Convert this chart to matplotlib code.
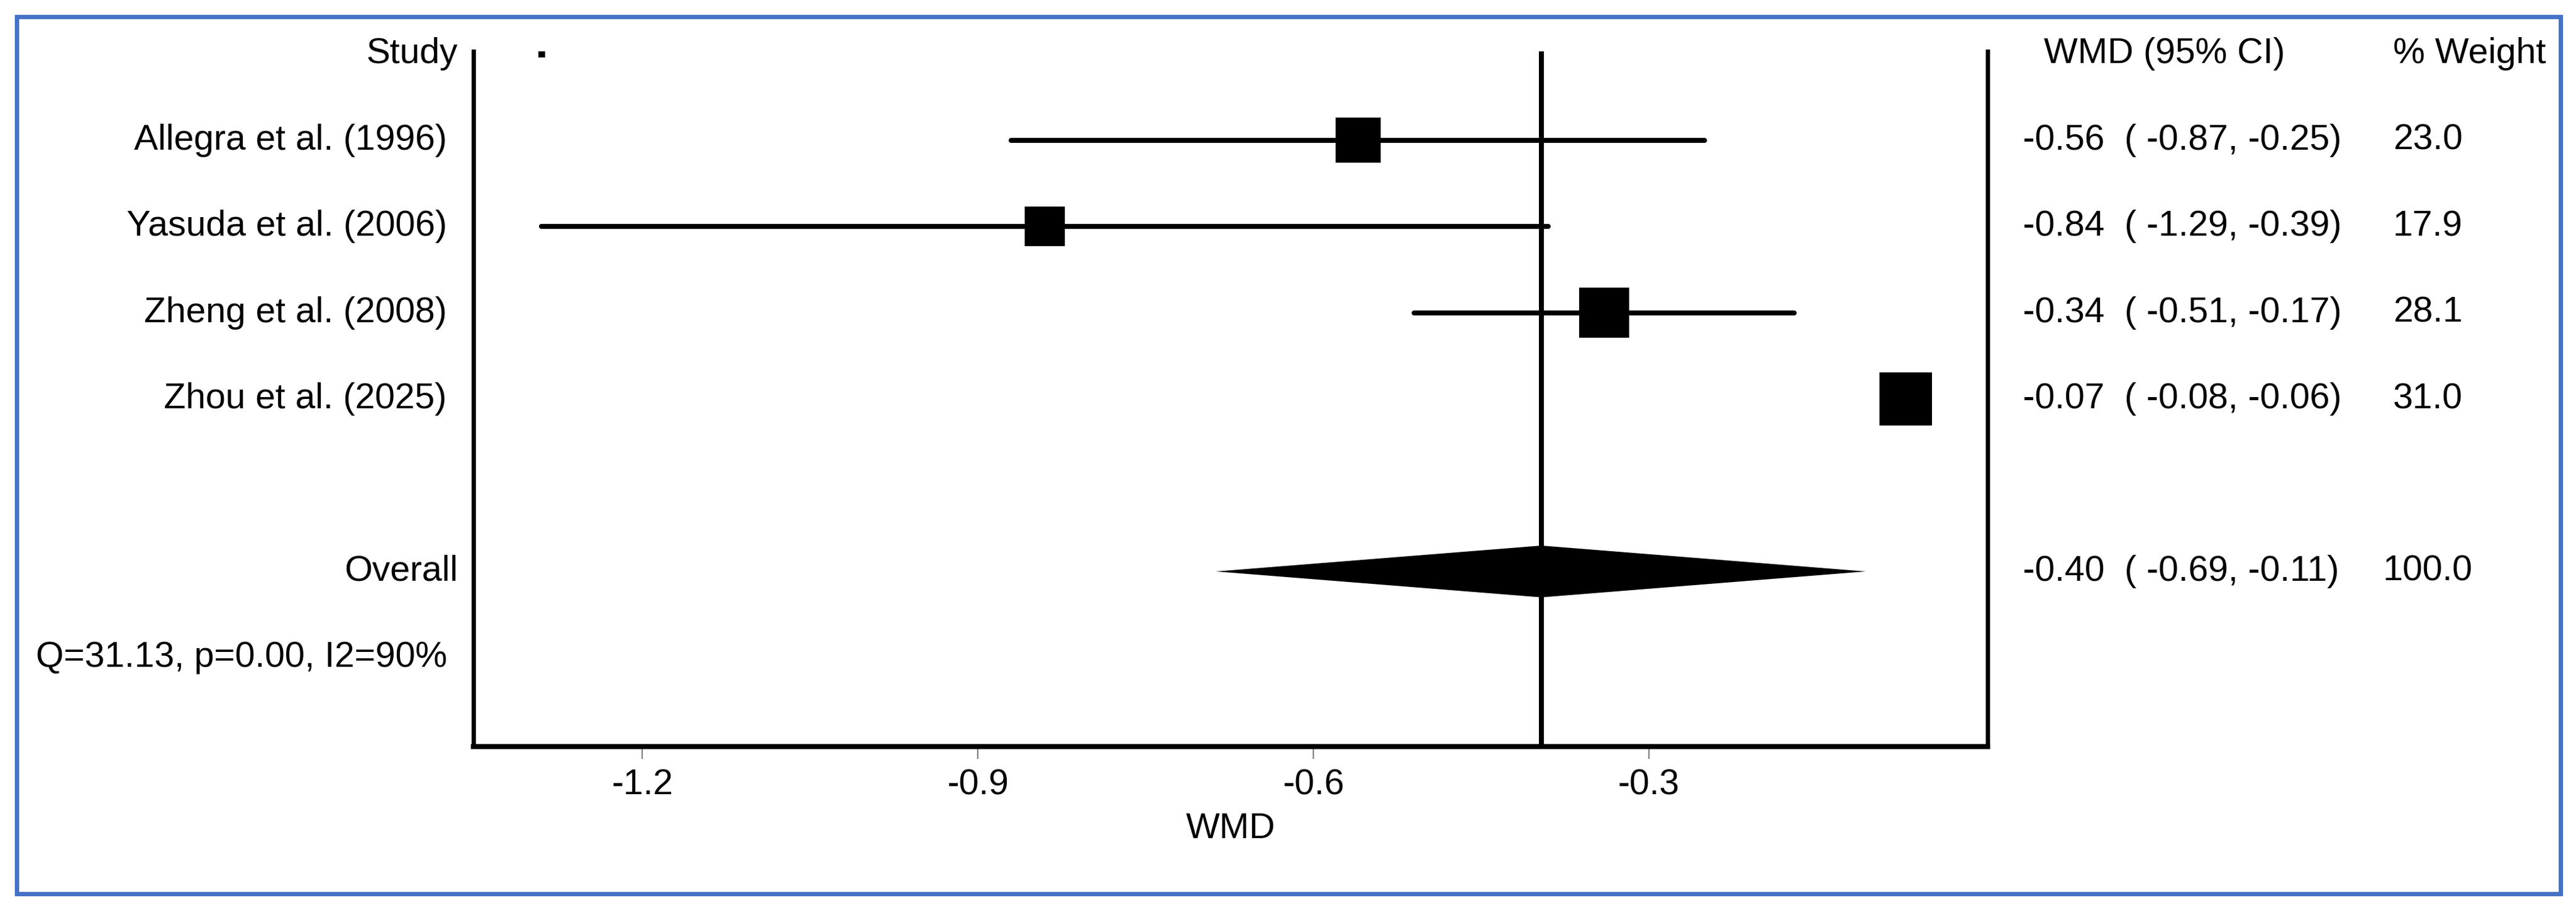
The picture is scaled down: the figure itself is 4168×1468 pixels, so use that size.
import matplotlib
matplotlib.use("Agg")
import matplotlib.pyplot as plt
from matplotlib.patches import Rectangle
from matplotlib.transforms import blended_transform_factory
import numpy as np

plt.rcParams['font.family'] = ['Liberation Sans', 'DejaVu Sans']
plt.rcParams['axes.unicode_minus'] = False

# ---- data ----
studies = ["Allegra et al. (1996)", "Yasuda et al. (2006)", "Zheng et al. (2008)", "Zhou et al. (2025)"]
wmd = [-0.56, -0.84, -0.34, -0.07]
ci_low = [-0.87, -1.29, -0.51, -0.08]
ci_high = [-0.25, -0.39, -0.17, -0.06]
weights = [23.0, 17.9, 28.1, 31.0]
overall_label = "Overall"
overall_wmd = -0.396
overall_low = -0.687
overall_high = -0.106
overall_weight = 100.0
heterogeneity = "Q=31.13, p=0.00, I2=90%"
header_dot_x = -1.29
xticks = [-1.2, -0.9, -0.6, -0.3]
xtick_labels = ["-1.2", "-0.9", "-0.6", "-0.3"]
xlabel = "WMD"
col_headers = ["Study", "WMD (95% CI)", "% Weight"]

W, H, DPI = 4168, 1468, 200
fig = plt.figure(figsize=(W / DPI, H / DPI), dpi=DPI)
fig.patch.set_facecolor("white")

# axes placement (pixel estimates)
ax_l, ax_r, ax_t, ax_b = 766, 3216, 83, 1207
ax = fig.add_axes([ax_l / W, 1 - ax_b / H, (ax_r - ax_l) / W, (ax_b - ax_t) / H])

FS = 20.9
rows = np.arange(1, len(studies) + 1)
overall_row = len(studies) + 2
het_row = overall_row + 1

# CI lines
ax.hlines(rows, ci_low, ci_high, color="black", lw=2.9, capstyle="round", zorder=3)
# squares, area proportional to weight
ax.scatter(wmd, rows, s=np.array(weights) * 30.3, marker="s", color="black",
           linewidths=0, zorder=4)
# overall diamond
h = 0.30
ax.fill([overall_low, overall_wmd, overall_high, overall_wmd],
        [overall_row, overall_row - h, overall_row, overall_row + h],
        color="black", lw=0, zorder=4)
# reference line at the overall estimate
ax.axvline(overall_wmd, color="black", lw=2.9, zorder=2)
# small dot in header row
ax.plot([header_dot_x], [0], marker="s", ms=3.2, color="black", lw=0)

ax.set_xlim(-1.351, 0.003)
ax.set_ylim(8.03, -0.03)

ax.spines["top"].set_visible(False)
ax.spines["left"].set_linewidth(2.5)
ax.spines["right"].set_linewidth(2.5)
ax.spines["bottom"].set_linewidth(3.0)
ax.set_yticks([])
ax.set_xticks(xticks)
ax.set_xticklabels(xtick_labels, fontsize=FS)
ax.tick_params(axis="x", direction="out", length=7.2, width=0.8, color="#808080", pad=5.5)
ax.set_xlabel(xlabel, fontsize=FS)
ax.xaxis.set_label_coords(0.5, -(1340 - ax_b) / (ax_b - ax_t))
ax.xaxis.label.set_va("center")

# text columns
tr = blended_transform_factory(fig.transFigure, ax.transData)
ax.text(741 / W, 0, col_headers[0], transform=tr, ha="right", va="center", fontsize=FS)
ax.text(3307 / W, 0, col_headers[1], transform=tr, ha="left", va="center", fontsize=FS)
ax.text(3872 / W, 0, col_headers[2], transform=tr, ha="left", va="center", fontsize=FS)

for r, name, e, lo, hi, w in zip(rows, studies, wmd, ci_low, ci_high, weights):
    ax.text(723 / W, r, name, transform=tr, ha="right", va="center", fontsize=FS)
    ax.text(3273 / W, r, f"{e:.2f}  ( {lo:.2f}, {hi:.2f})", transform=tr,
            ha="left", va="center", fontsize=FS)
    ax.text(3928 / W, r, f"{w:.1f}", transform=tr, ha="center", va="center", fontsize=FS)

ax.text(741 / W, overall_row, overall_label, transform=tr, ha="right", va="center", fontsize=FS)
ax.text(3273 / W, overall_row, f"{overall_wmd:.2f}  ( {overall_low:.2f}, {overall_high:.2f})",
        transform=tr, ha="left", va="center", fontsize=FS)
ax.text(3928 / W, overall_row, f"{overall_weight:.1f}", transform=tr, ha="center",
        va="center", fontsize=FS)
ax.text(58 / W, het_row, heterogeneity, transform=tr, ha="left", va="center", fontsize=FS)

# blue frame
fig.patches.append(Rectangle((27 / W, 1 - 1445 / H), (4143 - 27) / W, (1445 - 27) / H,
                             transform=fig.transFigure, fill=False,
                             edgecolor="#4472C4", lw=2.5))

fig.savefig("out.png", dpi=DPI, facecolor="white")
